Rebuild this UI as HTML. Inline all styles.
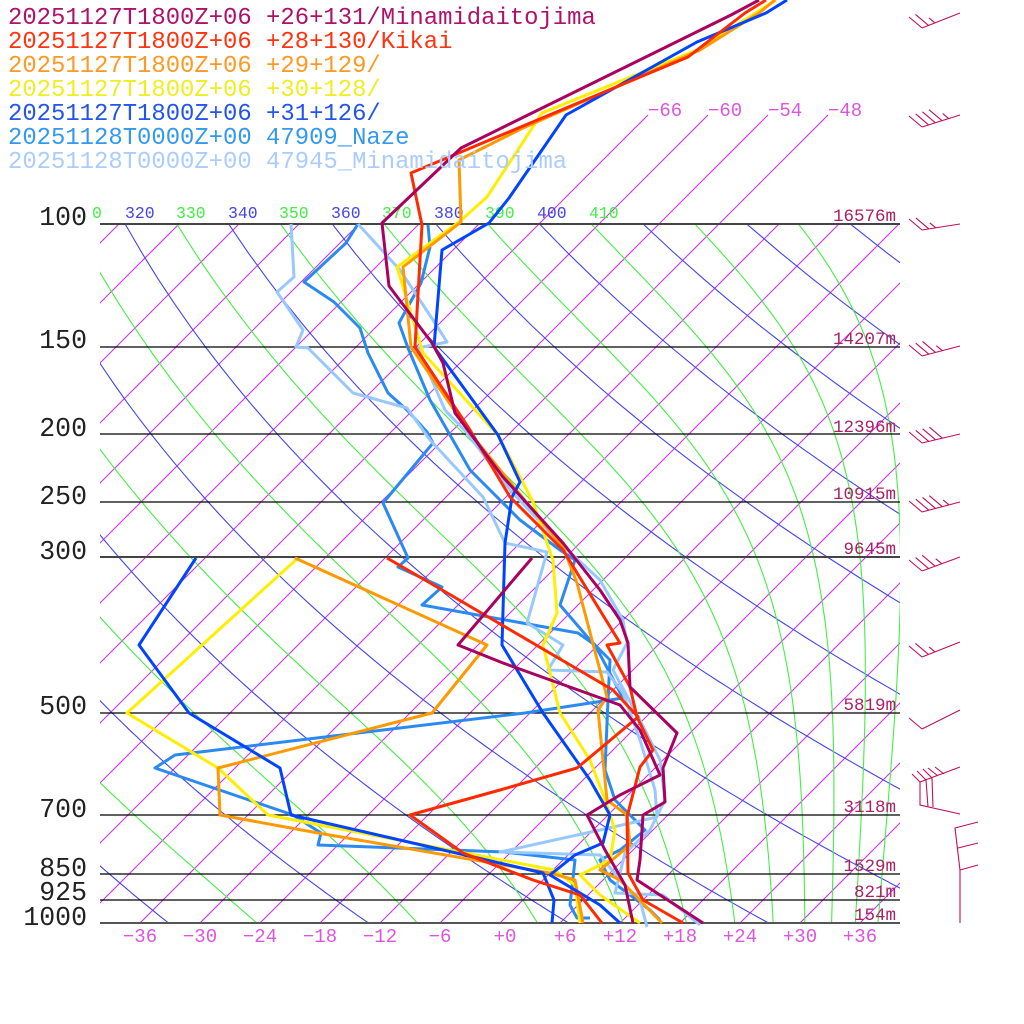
<!DOCTYPE html>
<html><head><meta charset="utf-8"><style>
html,body{margin:0;padding:0;background:#fff;width:1024px;height:1024px;overflow:hidden}
svg{display:block}
text{font-family:"Liberation Mono",monospace}
</style></head><body>
<svg id="s" width="1024" height="1024" viewBox="0 0 1024 1024" xmlns="http://www.w3.org/2000/svg">
<defs>
<clipPath id="cp"><rect x="100" y="224" width="800" height="699"/></clipPath>
<clipPath id="cpt"><rect x="100" y="110" width="800" height="813"/></clipPath>
</defs>
<g id="bg"></g>
<g stroke="#000" stroke-width="1.3">
<line x1="100" y1="224" x2="900" y2="224" stroke="#444" stroke-width="2"/>
<line x1="100" y1="347" x2="900" y2="347"/>
<line x1="100" y1="434" x2="900" y2="434"/>
<line x1="100" y1="502" x2="900" y2="502"/>
<line x1="100" y1="557" x2="900" y2="557" stroke="#444" stroke-width="2"/>
<line x1="100" y1="713" x2="900" y2="713"/>
<line x1="100" y1="815" x2="900" y2="815"/>
<line x1="100" y1="874" x2="900" y2="874"/>
<line x1="100" y1="900" x2="900" y2="900"/>
<line x1="100" y1="923" x2="900" y2="923" stroke="#555" stroke-width="2"/>
</g>
<g font-size="26.5" fill="#222" text-anchor="end">
<text x="87" y="225">100</text><text x="87" y="348">150</text><text x="87" y="436">200</text>
<text x="87" y="504">250</text><text x="87" y="559">300</text><text x="87" y="714">500</text>
<text x="87" y="817">700</text><text x="87" y="876">850</text><text x="87" y="900">925</text>
<text x="87" y="925">1000</text>
</g>
<g font-size="17.5" fill="#aa2266" text-anchor="end">
<text x="896" y="221">16576m</text><text x="896" y="344">14207m</text><text x="896" y="432">12396m</text>
<text x="896" y="499">10915m</text><text x="896" y="554">9645m</text><text x="896" y="710">5819m</text>
<text x="896" y="812">3118m</text><text x="896" y="871">1529m</text><text x="896" y="897">821m</text>
<text x="896" y="920">154m</text>
</g>
<g font-size="19" fill="#dd55dd" text-anchor="middle">
<text x="140" y="942">−36</text><text x="200" y="942">−30</text><text x="260" y="942">−24</text>
<text x="320" y="942">−18</text><text x="380" y="942">−12</text><text x="440" y="942">−6</text>
<text x="505" y="942">+0</text><text x="565" y="942">+6</text><text x="620" y="942">+12</text>
<text x="680" y="942">+18</text><text x="740" y="942">+24</text><text x="800" y="942">+30</text>
<text x="860" y="942">+36</text>
</g>
<g font-size="19" fill="#dd55dd">
<text x="648" y="116">−66</text><text x="708" y="116">−60</text><text x="768" y="116">−54</text><text x="828" y="116">−48</text>
</g>
<g font-size="16.5">
<text x="92" y="218" fill="#44ee44">0</text>
<text x="125" y="218" fill="#4444ee">320</text>
<text x="176" y="218" fill="#44ee44">330</text>
<text x="228" y="218" fill="#4444ee">340</text>
<text x="279" y="218" fill="#44ee44">350</text>
<text x="331" y="218" fill="#4444ee">360</text>
<text x="382" y="218" fill="#44ee44">370</text>
<text x="434" y="218" fill="#4444ee">380</text>
<text x="485" y="218" fill="#44ee44">390</text>
<text x="537" y="218" fill="#4444ee">400</text>
<text x="589" y="218" fill="#44ee44">410</text>
</g>
<g fill="none" stroke-width="3" stroke-linejoin="round">
<polyline stroke="#2a8af0" points="428,225 430,247 421,283 399,323 408,348 430,400 470,470 520,520 560,550 575,560 560,605 590,640 610,660 608,700 605,770 615,800 645,830 620,850 600,860 610,880 650,910 660,920"/>
<polyline stroke="#2a8af0" points="358,224 346,243 304,282 334,302 360,328 368,353 388,393 407,410 427,432 433,443 383,503 408,558 398,567 442,587 422,605 578,633 595,645 623,698 525,713 175,755 155,768 293,815 321,833 318,845 504,852 575,860 570,905 577,918 590,918"/>
<polyline stroke="#99c8ff" points="358,224 400,270 435,323 447,342 418,348 445,410 467,433 510,490 562,545 600,580 623,620 627,643 613,670 640,720 660,760 665,800 650,830 625,853 615,893 663,895 700,925"/>
<polyline stroke="#99c8ff" points="291,224 294,277 277,292 303,330 296,347 308,348 353,393 407,408 430,440 483,497 505,543 547,552 527,623 563,645 548,670 607,672 623,693 640,740 655,790 657,817 600,830 500,852 600,855 620,880 640,900 647,927"/>
<polyline stroke="#ffee00" points="776,0 697,50 542,113 487,197 459,222 397,267 423,353 498,435 533,502 553,560 557,613 543,645 560,713 590,760 605,800 615,830 610,860 580,875 600,895 640,923"/>
<polyline stroke="#ffee00" points="298,558 127,713 218,768 268,815 554,870 575,885 580,923"/>
<polyline stroke="#ff9900" points="775,0 759,13 700,50 523,128 459,160 461,222 403,267 411,347 470,433 563,547 577,583 607,697 598,710 603,760 607,800 627,815 630,845 600,870 620,880 662,923"/>
<polyline stroke="#ff9900" points="295,558 487,645 432,713 218,768 220,815 318,833 550,873 575,880 583,923"/>
<polyline stroke="#0044ff" points="787,0 766,13 697,42 566,115 509,198 489,223 442,250 434,347 498,435 520,482 512,497 505,543 502,645 543,713 590,780 610,815 603,843 575,855 550,875 600,905 620,923"/>
<polyline stroke="#0044ff" points="196,558 139,645 189,713 280,768 291,815 543,873 554,900 552,923"/>
<polyline stroke="#ff2a00" points="766,0 745,13 688,57 461,152 411,173 422,225 415,347 470,430 510,497 563,550 620,643 607,645 630,687 637,717 653,750 640,767 627,817 628,873 643,900 683,923"/>
<polyline stroke="#ff2a00" points="387,558 437,587 613,690 638,717 577,768 500,790 410,815 463,853 533,880 580,895 602,923"/>
<polyline stroke="#aa0060" points="759,0 731,15 461,148 382,223 389,286 432,343 443,363 455,413 503,477 563,543 600,590 620,620 628,643 630,687 677,733 663,768 665,802 643,815 640,860 637,880 660,895 703,923"/>
<polyline stroke="#aa0060" points="532,558 458,645 503,663 620,705 640,730 660,775 620,795 587,815 605,850 625,885 633,923"/>
</g>
<g fill="none" stroke="#c0105a" stroke-width="1.6" id="barbs"></g>
<g font-size="23.9">
<text x="8" y="24" fill="#b0106a">20251127T1800Z+06 +26+131/Minamidaitojima</text>
<text x="8" y="48" fill="#ff3311">20251127T1800Z+06 +28+130/Kikai</text>
<text x="8" y="72" fill="#ff9922">20251127T1800Z+06 +29+129/</text>
<text x="8" y="96" fill="#eeee22">20251127T1800Z+06 +30+128/</text>
<text x="8" y="120" fill="#2255ee">20251127T1800Z+06 +31+126/</text>
<text x="8" y="144" fill="#3399ee">20251128T0000Z+00 47909_Naze</text>
<text x="8" y="168" fill="#aaccff">20251128T0000Z+00 47945_Minamidaitojima</text>
</g>
</svg>
<script>
(function(){
var NS="http://www.w3.org/2000/svg";
var bg=document.getElementById('bg');
function Y(p){return 923+303.6*Math.log(p/1000);}
function X(T,y){return 500+10*T+(923-y);}
function add(par,d,col,clip){var e=document.createElementNS(NS,'path');e.setAttribute('d',d);e.setAttribute('stroke',col);e.setAttribute('stroke-width','1.1');e.setAttribute('fill','none');if(clip)e.setAttribute('clip-path','url(#'+clip+')');par.appendChild(e);}
for(var T=-150;T<=60;T+=6){
  var up=(T>=-66&&T<=-48);var ytop=up?115:224;
  add(bg,'M'+X(T,923)+' 923L'+X(T,ytop)+' '+ytop,'#cc33ee',up?'cpt':'cp');
}
for(var th=200;th<=520;th+=20){
  var d='';
  for(var p=1000;p>=100;p-=10){var Tk=th*Math.pow(p/1000,0.2857)-273.15;var y=Y(p);d+=(d?'L':'M')+X(Tk,y).toFixed(1)+' '+y.toFixed(1);}
  add(bg,d,'#4444ee','cp');
}
function es(Tk){var t=Tk-273.15;return 6.112*Math.exp(17.67*t/(t+243.5));}
for(var th=250;th<=450;th+=20){
  var Tk=th*Math.pow(0.1,0.2857);var pts=[];
  for(var p=100;p<=1000;p+=1){
    pts.push([p,Tk]);
    var e=es(Tk);var rs=0.622*e/Math.max(p-e,1);
    var Rd=287,cp=1005,L=2.5e6;
    var dTdp=(Rd*Tk+L*rs)/(p*(cp+L*L*rs*0.622/(Rd*Tk*Tk)));
    Tk+=dTdp*1;
  }
  var d='';
  for(var i=0;i<pts.length;i+=5){var y=Y(pts[i][0]);d+=(d?'L':'M')+X(pts[i][1]-273.15,y).toFixed(1)+' '+y.toFixed(1);}
  add(bg,d,'#44ee44','cp');
}
var bb=document.getElementById('barbs');
function barb(yr,yl,n,half){
  var d='M960 '+yr+'L922 '+yl;
  var dx=38,dy=(yl-yr);var len=Math.sqrt(dx*dx+dy*dy);var ux=dx/len,uy=dy/len;
  for(var i=0;i<n;i++){var sx=922+ux*7*i,sy=yl-uy*7*i;d+='M'+sx.toFixed(1)+' '+sy.toFixed(1)+'l-13 -11';}
  if(half){var sx=922+ux*7*n,sy=yl-uy*7*n;d+='M'+sx.toFixed(1)+' '+sy.toFixed(1)+'l-6 -5';}
  add(bb,d,'#c0105a');
}
barb(13,28,2,1);barb(115,127,4,1);barb(224,230,2,1);barb(346,356,3,1);barb(434,443,4,0);
barb(502,512,4,1);barb(557,571,3,1);barb(642,657,2,1);barb(710,729,1,0);
add(bb,'M960 767L920 782L920 805L960 814M920 782l-8 -8M926 780l-9 -9M932 778l-9 -9M938 776l-10 -8M944 774l-9 -7M926 780L928 807M932 778L933 807','#c0105a');
add(bb,'M960 923L960 870L955 828L978 822M958 848L978 843M960 870L978 865','#c0105a');
})();
</script>
</body></html>
